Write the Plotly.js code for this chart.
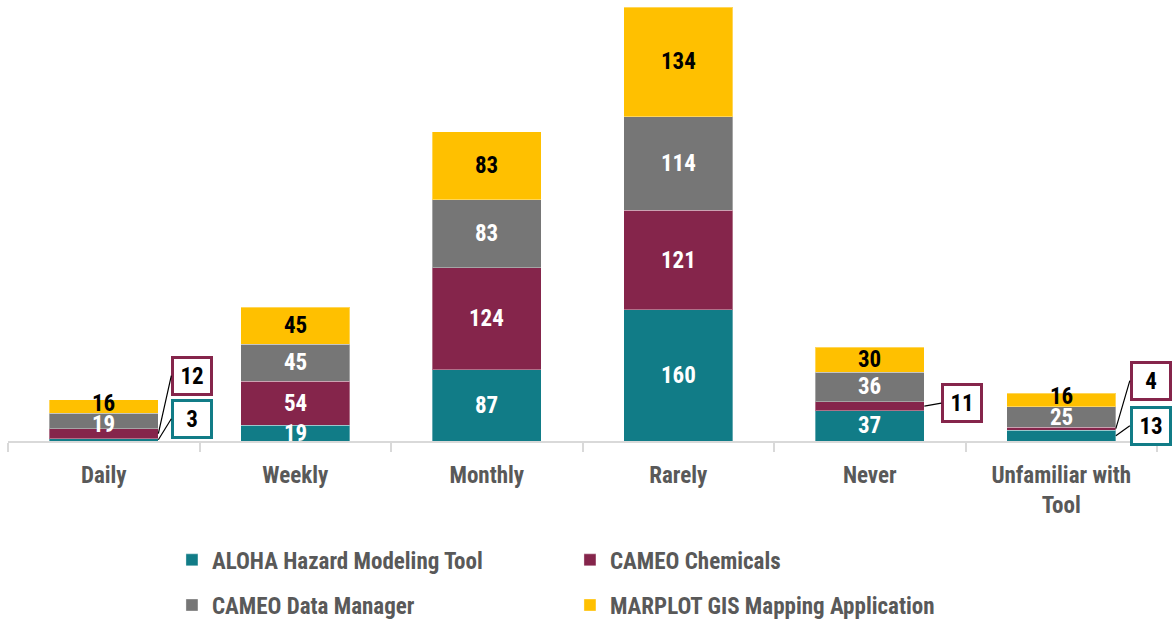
<!DOCTYPE html>
<html>
<head>
<meta charset="utf-8">
<script src="https://cdn.plot.ly/plotly-3.0.1.min.js"></script>
<style>html,body{margin:0;padding:0;background:#fff;overflow:hidden;}#chart{width:1173px;height:624px;}</style>
</head>
<body>
<div id="chart"></div>
<script>
const categories = ["Daily", "Weekly", "Monthly", "Rarely", "Never", "Unfamiliar with<br>Tool"];
const seriesNames = ["ALOHA Hazard Modeling Tool", "CAMEO Chemicals", "CAMEO Data Manager", "MARPLOT GIS Mapping Application"];
const aloha = [3, 19, 87, 160, 37, 13];
const cameoChemicals = [12, 54, 124, 121, 11, 4];
const cameoDataManager = [19, 45, 83, 114, 36, 25];
const marplot = [16, 45, 83, 134, 30, 16];

const colors = ["#117C87", "#85254B", "#767676", "#FFC000"];
const labelColors = ["#ffffff", "#ffffff", "#ffffff", "#000000"];
const legendRows = ["legend", "legend", "legend2", "legend2"];
const FONT = "'Liberation Sans Narrow', 'Arial Narrow', 'Roboto Condensed', 'Liberation Sans', sans-serif";

const series = [aloha, cameoChemicals, cameoDataManager, marplot];
const traces = series.map((vals, i) => ({
  type: "bar",
  name: seriesNames[i],
  x: categories,
  y: vals,
  legend: legendRows[i],
  marker: {color: colors[i], line: {color: "rgba(255,255,255,0.35)", width: 1}},
  width: 0.57,
  hoverinfo: "skip"
}));

// callout offsets (pixels) for small segments shown outside the bar
const callouts = {
  "0-0": [13, -21], "0-1": [13, -58],
  "4-1": [17, -3],
  "5-0": [14, -10], "5-1": [14, -48]
};
// small vertical nudges (pixels) for labels in thin segments
const nudges = {"0-2": -4, "0-3": 3, "5-2": -1, "5-3": 3};

const annotations = [];
categories.forEach((cat, ci) => {
  let base = 0;
  series.forEach((vals, si) => {
    const v = vals[ci];
    const mid = base + v / 2;
    const key = ci + "-" + si;
    if (callouts[key]) {
      annotations.push({
        x: ci + 0.285, y: mid, xref: "x", yref: "y",
        text: "<b>" + v + "</b>",
        showarrow: true, arrowhead: 0, arrowwidth: 1.2, arrowcolor: "#000",
        ax: callouts[key][0], ay: callouts[key][1], axref: "pixel", ayref: "pixel",
        xanchor: "left",
        bgcolor: "#fff", bordercolor: colors[si], borderwidth: 3, borderpad: 3,
        width: 30, height: 28,
        font: {family: FONT, size: 23, color: "#000"}
      });
    } else {
      annotations.push({
        x: ci, y: mid, xref: "x", yref: "y",
        yshift: nudges[key] || 0,
        text: "<b>" + v + "</b>", showarrow: false,
        font: {family: FONT, size: 23, color: labelColors[si]}
      });
    }
    base += v;
  });
});

const legendBase = {
  orientation: "h", x: 0.1427, xanchor: "left", yanchor: "middle",
  entrywidth: 353, entrywidthmode: "pixels",
  font: {family: FONT, size: 23, color: "#595959", weight: "bold"},
  traceorder: "normal", itemclick: false, bgcolor: "rgba(0,0,0,0)"
};

const layout = {
  width: 1173, height: 624,
  margin: {l: 8, r: 16, t: 7, b: 183, autoexpand: false},
  barmode: "stack",
  bargap: 0.43,
  paper_bgcolor: "#fff", plot_bgcolor: "#fff",
  showlegend: true,
  legend: Object.assign({}, legendBase, {y: -0.274}),
  legend2: Object.assign({}, legendBase, {y: -0.378}),
  xaxis: {
    type: "category", automargin: false, range: [-0.5, categories.length - 0.5], autorange: false,
    showline: true, linecolor: "#D9D9D9", linewidth: 2,
    ticks: "outside", tickson: "boundaries", ticklen: 9, tickcolor: "#D9D9D9", tickwidth: 2,
    ticklabelstandoff: 12,
    tickfont: {family: FONT, size: 23, color: "#595959", weight: "bold"},
    showgrid: false, zeroline: false, fixedrange: true
  },
  yaxis: {
    range: [0, 529], autorange: false, visible: false, showgrid: false, zeroline: false, fixedrange: true, automargin: false
  },
  annotations: annotations
};

Plotly.newPlot("chart", traces, layout, {displayModeBar: false, staticPlot: true});
</script>
</body>
</html>
